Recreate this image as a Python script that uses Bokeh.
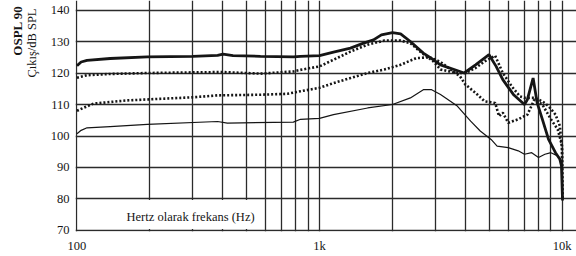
from bokeh.plotting import figure
from bokeh.models import FixedTicker, Range1d, Title
from bokeh.embed import file_html
from bokeh.resources import INLINE
from bokeh.core.properties import value

# ---- data ----
freq_thick = [100, 104, 110, 137, 195, 300, 380, 400, 440, 571, 780, 835, 1000, 1142,
              1342, 1520, 1670, 1800, 2000, 2160, 2370, 2680, 2950, 3155, 3950, 4400,
              5000, 5350, 5700, 6300, 7000, 7200, 7600, 7900, 8300, 8800, 9400, 9800,
              9950, 10050]
spl_thick = [122.3, 123.5, 124.0, 124.6, 125.1, 125.3, 125.6, 126.0, 125.5, 125.3, 125.1,
             125.3, 125.5, 126.6, 127.9, 129.5, 130.5, 132.1, 132.8, 132.4, 130.0, 126.3,
             124.2, 122.6, 120.0, 122.6, 125.8, 122.1, 117.9, 113.2, 110.0, 111.6, 118.4,
             110.5, 105.3, 98.9, 94.7, 92.6, 90.5, 79.5]

freq_dot_hi = [100, 110, 137, 195, 300, 400, 571, 780, 835, 1000, 1142, 1342, 1580, 1850,
               2160, 2370, 2600, 2950, 3155, 3700, 4000, 4400, 4800, 5300, 5700, 6200,
               6700, 7000, 7700, 8300, 8800, 9400, 9800, 10000, 10050]
spl_dot_hi = [118.5, 119.3, 119.7, 120.0, 120.2, 120.3, 119.8, 120.5, 121.0, 122.1, 124.2,
              126.8, 129.0, 130.3, 130.3, 129.5, 126.8, 123.7, 121.1, 120.0, 120.0, 121.6,
              123.7, 125.5, 120.0, 115.8, 112.6, 112.1, 112.1, 111.0, 109.5, 106.8, 103.2,
              95.8, 80.0]

freq_dot_lo = [100, 104, 117, 161, 302, 380, 571, 737, 835, 1000, 1142, 1342, 1580, 1850,
               2160, 2500, 2850, 3155, 3800, 4000, 4400, 4800, 5300, 5500, 5700, 6000,
               6600, 7200, 7700, 8300, 9000, 9600, 10000, 10050]
spl_dot_lo = [108.0, 108.6, 110.3, 111.3, 112.3, 112.9, 113.1, 113.4, 114.2, 115.3, 116.8,
              118.4, 120.0, 121.1, 122.6, 124.7, 125.0, 123.5, 118.9, 116.3, 113.7, 111.0,
              110.5, 106.3, 107.4, 104.2, 105.3, 106.8, 111.6, 110.0, 105.3, 102.1, 97.0,
              80.0]

freq_thin = [100, 104, 110, 137, 195, 380, 417, 780, 835, 1000, 1142, 1580, 2000, 2370,
             2680, 2900, 3155, 3700, 4200, 4600, 5100, 5400, 6000, 6600, 7000, 7500, 8000,
             8500, 9000, 9600, 9900, 10000, 10050]
spl_thin = [100.7, 101.8, 102.6, 103.0, 103.7, 104.6, 104.1, 104.4, 105.3, 105.6, 106.8,
            108.9, 110.0, 112.1, 114.7, 114.7, 113.2, 109.5, 104.7, 101.6, 98.9, 96.8, 96.3,
            95.3, 94.2, 94.7, 93.2, 94.2, 94.7, 93.7, 92.5, 88.0, 80.0]

y_ticks = [70, 80, 90, 100, 110, 120, 130, 140]
x_label_ticks = [100, 1000, 10000]
x_tick_labels = ["100", "1k", "10k"]
grid_freqs = [100, 200, 300, 400, 500, 600, 700, 800, 900,
              1000, 2000, 3000, 4000, 5000, 6000, 7000, 8000, 9000, 10000]

x_title = "Hertz olarak frekans (Hz)"
y_title_bold = "OSPL 90"
y_title = "Çıkış/dB SPL"

FONT = "Liberation Sans Narrow"
INK = "#151515"

p = figure(width=576, height=256, x_axis_type="log",
           x_range=Range1d(98.6, 11475), y_range=Range1d(69.68, 143.02),
           output_backend="svg", toolbar_location=None,
           min_border_left=75, min_border_right=0, min_border_top=0,
           min_border_bottom=25)
p.outline_line_color = None
p.background_fill_color = "white"

# grids
p.xgrid.ticker = FixedTicker(ticks=grid_freqs)
p.ygrid.ticker = FixedTicker(ticks=y_ticks)
for g in (p.xgrid, p.ygrid):
    g.grid_line_color = "#2b2b2b"
    g.grid_line_width = 1.3
    g.grid_line_alpha = 1.0

# axes
p.xaxis.ticker = FixedTicker(ticks=x_label_ticks)
p.xaxis.major_label_overrides = dict(zip(x_label_ticks, x_tick_labels))
p.yaxis.ticker = FixedTicker(ticks=y_ticks)
for ax in (p.xaxis, p.yaxis):
    ax.axis_line_color = None
    ax.major_tick_line_color = None
    ax.minor_tick_line_color = None
    ax.major_tick_out = 0
    ax.major_tick_in = 0
    ax.minor_tick_out = 0
    ax.minor_tick_in = 0
    ax.major_label_text_font = FONT
    ax.major_label_text_font_size = "12.5px"
    ax.major_label_text_color = INK
p.xaxis.major_label_standoff = 7
p.yaxis.major_label_standoff = 6

# rotated y titles (inner: normal weight, outer: bold)
t_inner = Title(text=y_title, align="right", vertical_align="top",
                standoff=14, offset=8, text_font=FONT, text_font_size="12.5px",
                text_font_style="normal", text_color=INK)
p.add_layout(t_inner, "left")
t_outer = Title(text=y_title_bold, align="right", vertical_align="bottom",
                standoff=0, offset=5, text_font=FONT, text_font_size="13px",
                text_font_style="bold", text_color=INK)
try:
    t_outer.standoff = -14
except Exception:
    t_outer.standoff = 0
p.add_layout(t_outer, "left")

# white panel behind the x-axis title (covers the grid lines there)
p.quad(left=[101.6], right=[545], bottom=[70.45], top=[79.65],
       fill_color="white", line_color=None)
p.text(x=[294], y=[74.2], text=[x_title], text_font=value(FONT),
       text_font_size="12.5px", text_align="center", text_baseline="middle",
       text_color=INK)

# curves
p.line(freq_thin, spl_thin, line_color=INK, line_width=1.2)
p.line(freq_dot_lo, spl_dot_lo, line_color=INK, line_width=2.6, line_dash="2 2")
p.line(freq_dot_hi, spl_dot_hi, line_color=INK, line_width=2.6, line_dash="2 2")
p.line(freq_thick, spl_thick, line_color=INK, line_width=2.8)

open("out.html", "w").write(file_html(p, INLINE))
